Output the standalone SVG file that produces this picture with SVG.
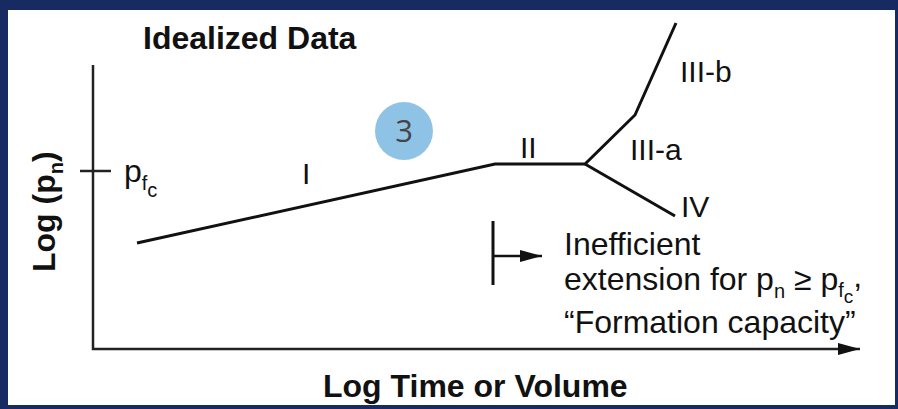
<svg xmlns="http://www.w3.org/2000/svg" width="898" height="409" viewBox="0 0 898 409">
<style>
.t{font-family:"Liberation Sans",Arial,sans-serif;fill:#111}
.b{font-weight:bold}
.ln{fill:none;stroke:#111;stroke-width:3;stroke-linejoin:miter}
.ax{fill:none;stroke:#222;stroke-width:2.5}
</style>
<defs>
<marker id="ah" markerWidth="22" markerHeight="12" refX="22" refY="6" orient="auto" markerUnits="userSpaceOnUse">
<path d="M0,0 L22,6 L0,12 Z" fill="#111"/>
</marker>
</defs>
<rect x="0" y="0" width="898" height="409" fill="#182a62"/>
<rect x="8" y="10" width="887" height="395" fill="#ffffff"/>
<g id="axes">
<path class="ax" d="M93,65 V349 H860" marker-end="url(#ah)"/>
<path class="ax" d="M80,171 H111"/>
</g>
<g id="connectors">
<path class="ln" d="M137,243 L495,164 L585,164 L635,115 L676,23"/>
<path class="ln" d="M585,164 L675,216"/>
<path class="ln" d="M493,221 V285"/>
<path class="ln" d="M493,256 H542" marker-end="url(#ah)" style="stroke-width:2.5"/>
</g>
<g id="title"><text class="t b" x="143" y="49" font-size="32">Idealized Data</text></g>
<g id="ylabel"><text class="t b" font-size="32" transform="translate(55,272) rotate(-90)">Log (p<tspan font-size="20" dy="8">n</tspan><tspan dy="-8">)</tspan></text></g>
<g id="xlabel"><text class="t b" x="323" y="397" font-size="32">Log Time or Volume</text></g>
<g id="pfc"><text class="t" x="124" y="182" font-size="32">p<tspan font-size="20" dy="8">f</tspan><tspan font-size="20" dy="7">c</tspan></text></g>
<g id="regionI"><text class="t" x="302" y="184" font-size="30">I</text></g>
<g id="regionII"><text class="t" x="520" y="158" font-size="30">II</text></g>
<g id="regionIIIa"><text class="t" x="630" y="160" font-size="30">III-a</text></g>
<g id="regionIIIb"><text class="t" x="680" y="82" font-size="30">III-b</text></g>
<g id="regionIV"><text class="t" x="681" y="217" font-size="30">IV</text></g>
<g id="badge3"><circle cx="404" cy="131" r="29" fill="#8ec3e6"/><text x="404" y="142" font-size="31" text-anchor="middle" font-family="'Open Sans','Liberation Sans',sans-serif" fill="#454545">3</text></g>
<g id="note">
<text class="t" x="564" y="255" font-size="32">Inefficient</text>
<text class="t" x="564" y="290" font-size="32">extension for p<tspan font-size="20" dy="8">n</tspan><tspan dy="-8"> ≥ p</tspan><tspan font-size="20" dy="7">f</tspan><tspan font-size="19" dy="6">c</tspan><tspan dy="-16">,</tspan></text>
<text class="t" x="564" y="333" font-size="32">“Formation capacity”</text>
</g>
</svg>
